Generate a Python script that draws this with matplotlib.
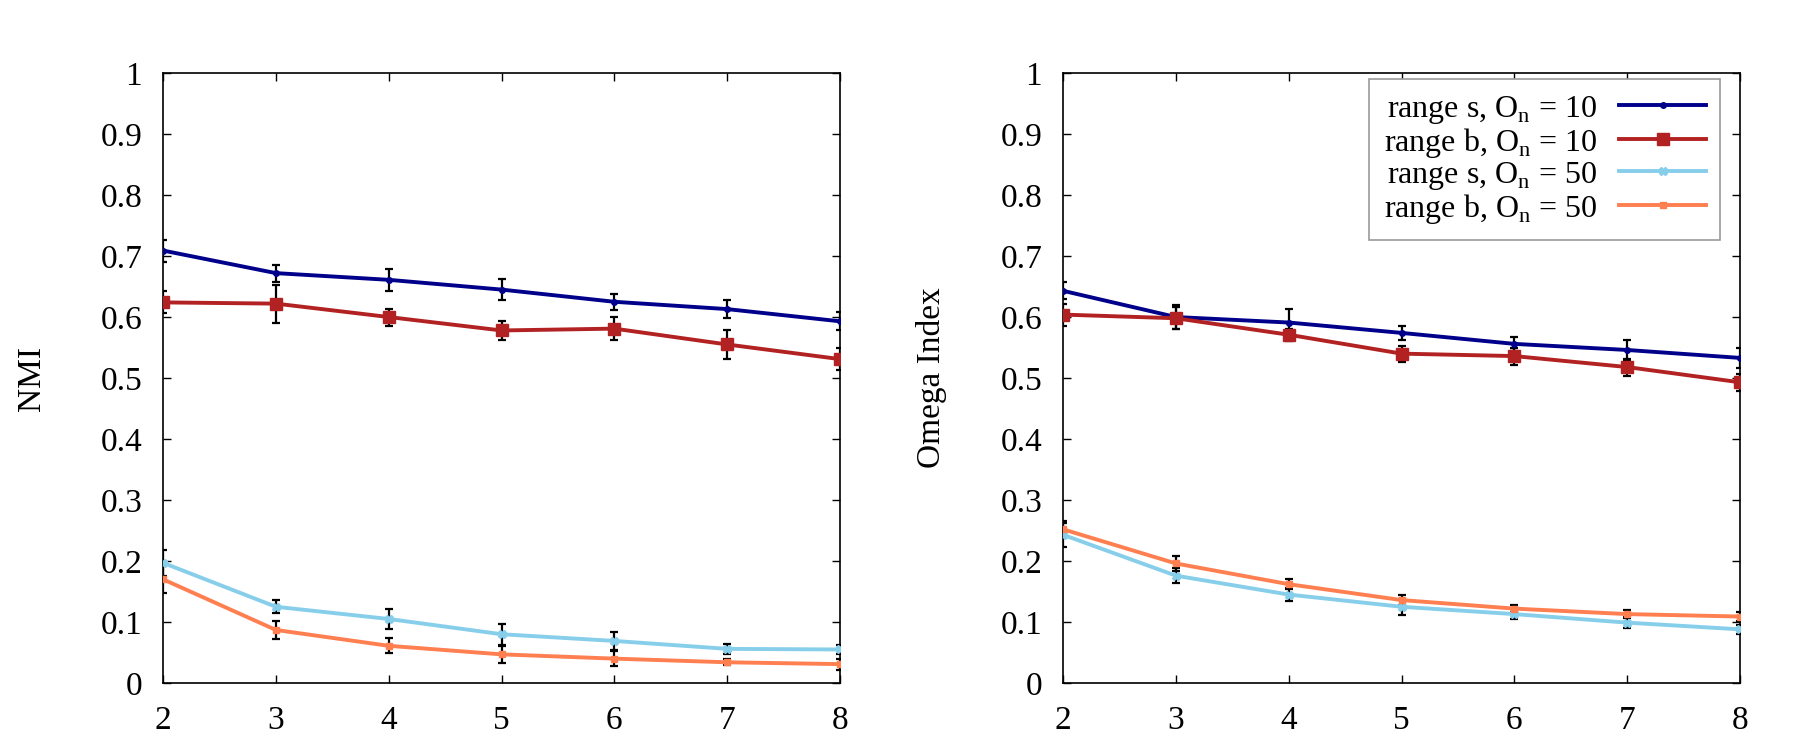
import matplotlib
matplotlib.use("Agg")
import matplotlib.pyplot as plt

plt.rcParams['font.family'] = ['Liberation Serif', 'DejaVu Serif']
plt.rcParams['mathtext.fontset'] = 'custom'
plt.rcParams['mathtext.rm'] = 'Liberation Serif'

X = [2, 3, 4, 5, 6, 7, 8]

# NMI panel
NMI_S10 = [0.709, 0.672, 0.661, 0.645, 0.625, 0.613, 0.593]
NMI_S10_ERR = [0.018, 0.014, 0.018, 0.017, 0.013, 0.015, 0.015]
NMI_B10 = [0.624, 0.622, 0.600, 0.578, 0.581, 0.555, 0.531]
NMI_B10_ERR = [0.018, 0.031, 0.014, 0.015, 0.019, 0.023, 0.018]
NMI_S50 = [0.197, 0.125, 0.105, 0.080, 0.069, 0.056, 0.055]
NMI_S50_ERR = [0.021, 0.011, 0.017, 0.017, 0.015, 0.008, 0.008]
NMI_B50 = [0.170, 0.087, 0.061, 0.047, 0.040, 0.034, 0.031]
NMI_B50_ERR = [0.023, 0.015, 0.012, 0.014, 0.012, 0.005, 0.009]

# Omega index panel
OMG_S10 = [0.643, 0.600, 0.591, 0.574, 0.556, 0.546, 0.533]
OMG_S10_ERR = [0.014, 0.020, 0.023, 0.012, 0.012, 0.016, 0.016]
OMG_B10 = [0.604, 0.598, 0.571, 0.540, 0.536, 0.518, 0.493]
OMG_B10_ERR = [0.018, 0.018, 0.010, 0.013, 0.014, 0.014, 0.014]
OMG_S50 = [0.243, 0.176, 0.145, 0.125, 0.113, 0.099, 0.088]
OMG_S50_ERR = [0.020, 0.012, 0.010, 0.013, 0.008, 0.009, 0.007]
OMG_B50 = [0.252, 0.196, 0.162, 0.136, 0.122, 0.113, 0.109]
OMG_B50_ERR = [0.013, 0.013, 0.008, 0.008, 0.006, 0.007, 0.007]

LABELS = ['range s, O$_\\mathregular{n}$ = 10',
          'range b, O$_\\mathregular{n}$ = 10',
          'range s, O$_\\mathregular{n}$ = 50',
          'range b, O$_\\mathregular{n}$ = 50']
COLORS = ['#00008b', '#b22222', '#87ceeb', '#ff7f50']
MARKERS = [('o', 4), ('s', 9), ('X', 6), ('s', 5)]
Y_TICKS = [0, 0.1, 0.2, 0.3, 0.4, 0.5, 0.6, 0.7, 0.8, 0.9, 1]

fig = plt.figure(figsize=(18, 7.5), dpi=100)
ax1 = fig.add_axes([0.0906, 0.0893, 0.3761, 0.8133])
ax2 = fig.add_axes([0.5906, 0.0893, 0.3761, 0.8133])


def draw(ax, series, ylabel):
    for (vals, errs), col, (mk, ms), lab in zip(series, COLORS, MARKERS, LABELS):
        ax.errorbar(X, vals, yerr=errs, fmt='none', ecolor='black',
                    elinewidth=1.6, capsize=3, capthick=1.6, zorder=2)
        ax.plot(X, vals, color=col, lw=2.8, marker=mk, ms=ms,
                label=lab, zorder=3)
    ax.set_xlim(2, 8)
    ax.set_ylim(0, 1)
    ax.set_xticks(X)
    ax.set_yticks(Y_TICKS)
    ax.set_yticklabels([f"{v:g}" for v in Y_TICKS])
    ax.tick_params(direction='in', top=True, right=True, length=6,
                   width=1, labelsize=24, pad=15)
    ax.tick_params(axis='x', pad=16)
    for sp in ax.spines.values():
        sp.set_linewidth(1.2)
    ax.set_ylabel(ylabel, fontsize=24)
    ax.yaxis.set_label_coords(-0.172, 0.5)


draw(ax1, [(NMI_S10, NMI_S10_ERR), (NMI_B10, NMI_B10_ERR),
           (NMI_S50, NMI_S50_ERR), (NMI_B50, NMI_B50_ERR)], 'NMI')
draw(ax2, [(OMG_S10, OMG_S10_ERR), (OMG_B10, OMG_B10_ERR),
           (OMG_S50, OMG_S50_ERR), (OMG_B50, OMG_B50_ERR)], 'Omega Index')

leg = ax2.legend(loc='upper right', bbox_to_anchor=(0.9705, 0.990),
                 borderaxespad=0, markerfirst=False, fontsize=23,
                 fancybox=False, framealpha=1, edgecolor='#999999',
                 labelspacing=0.0, handlelength=2.7, handletextpad=0.7,
                 borderpad=0.45)
leg.get_frame().set_linewidth(1.2)

fig.savefig('out.png', dpi=100)
